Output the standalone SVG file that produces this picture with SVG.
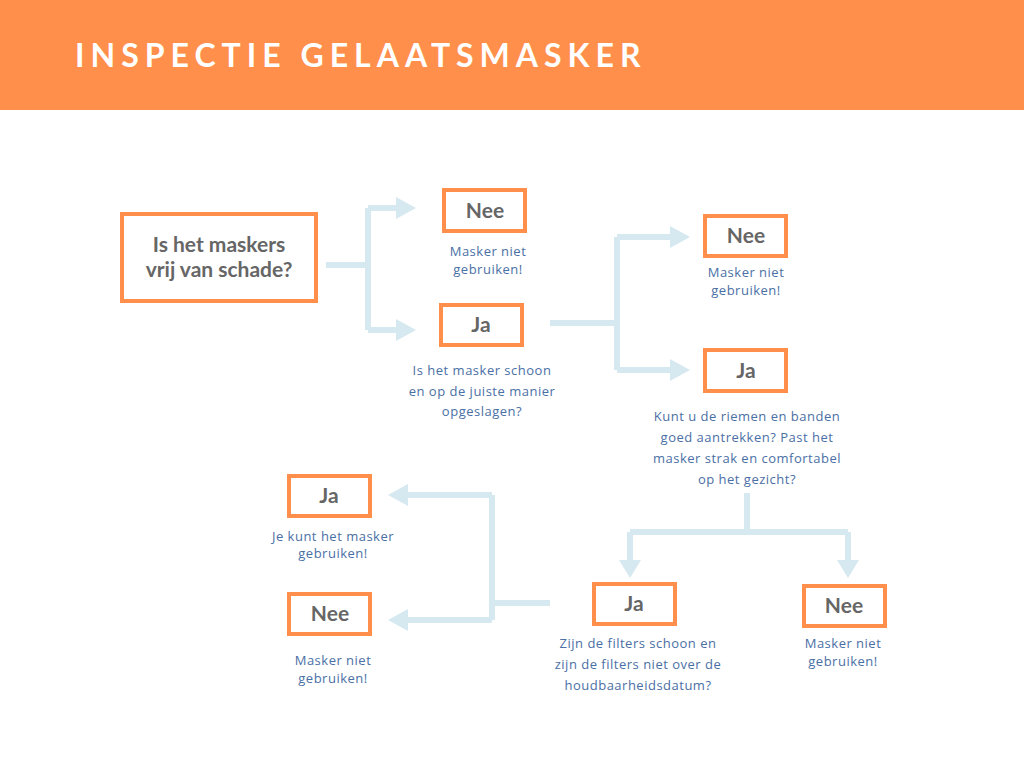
<svg xmlns="http://www.w3.org/2000/svg" width="1024" height="768" viewBox="0 0 1024 768">
<style>
.box{fill:#fff;stroke:#ff8f4b;stroke-width:4}
.bt{font-family:Lato,"Liberation Sans",sans-serif;font-weight:bold;fill:#666;font-size:21px;text-anchor:middle}
.d{font-family:"Open Sans","Liberation Sans",sans-serif;fill:#4a6fa5;font-size:13px;text-anchor:middle;letter-spacing:0.5px}
.c{fill:none;stroke:#d6e8f0;stroke-width:6}
.ah{fill:#d6e8f0}
</style>
<rect width="1024" height="110" fill="#ff8f4b"/>
<text x="75" y="67" font-family="Lato,'Liberation Sans',sans-serif" font-weight="bold" font-size="32" fill="#fff" letter-spacing="6">INSPECTIE GELAATSMASKER</text>
<g id="connectors">
<path class="c" d="M326 265H368M368 208V330M368 208H398M368 330H398"/>
<polygon class="ah" points="396,197 416,208 396,219"/>
<polygon class="ah" points="396,319 416,330 396,341"/>
<path class="c" d="M550 323H617M617 237V370M617 237H672M617 370H672"/>
<polygon class="ah" points="670,226 690,237 670,248"/>
<polygon class="ah" points="670,359 690,370 670,381"/>
<path class="c" d="M747 493V532M630 532H848M630 532V562M848 532V562"/>
<polygon class="ah" points="619,560 630,578 641,560"/>
<polygon class="ah" points="837,560 848,578 859,560"/>
<path class="c" d="M550 603H492M492 495V620M492 495H406M492 620H406"/>
<polygon class="ah" points="408,484 388,495 408,506"/>
<polygon class="ah" points="408,609 388,620 408,631"/>
</g>
<g id="q1"><rect class="box" x="122" y="214" width="194" height="87"/><text class="bt" x="219" y="252">Is het maskers</text><text class="bt" x="219" y="277">vrij van schade?</text></g>
<g id="nee1"><rect class="box" x="444" y="190" width="81" height="41"/><text class="bt" x="485" y="218" font-size="19">Nee</text><text class="d" x="488" y="256">Masker niet</text><text class="d" x="488" y="274">gebruiken!</text></g>
<g id="ja1"><rect class="box" x="441" y="305" width="81" height="40"/><text class="bt" x="481" y="332" font-size="19">Ja</text><text class="d" x="482" y="375">Is het masker schoon</text><text class="d" x="482" y="396">en op de juiste manier</text><text class="d" x="482" y="416">opgeslagen?</text></g>
<g id="nee2"><rect class="box" x="705" y="216" width="81" height="40"/><text class="bt" x="746" y="243" font-size="19">Nee</text><text class="d" x="746" y="277">Masker niet</text><text class="d" x="746" y="295">gebruiken!</text></g>
<g id="ja2"><rect class="box" x="705" y="350" width="81" height="41"/><text class="bt" x="746" y="378" font-size="19">Ja</text><text class="d" x="747" y="421">Kunt u de riemen en banden</text><text class="d" x="747" y="442">goed aantrekken? Past het</text><text class="d" x="747" y="463">masker strak en comfortabel</text><text class="d" x="747" y="484">op het gezicht?</text></g>
<g id="ja3"><rect class="box" x="594" y="584" width="81" height="40"/><text class="bt" x="634" y="611" font-size="19">Ja</text><text class="d" x="638" y="648">Zijn de filters schoon en</text><text class="d" x="638" y="669">zijn de filters niet over de</text><text class="d" x="638" y="690">houdbaarheidsdatum?</text></g>
<g id="nee3"><rect class="box" x="804" y="586" width="81" height="40"/><text class="bt" x="844" y="613" font-size="19">Nee</text><text class="d" x="843" y="648">Masker niet</text><text class="d" x="843" y="666">gebruiken!</text></g>
<g id="ja4"><rect class="box" x="289" y="476" width="81" height="40"/><text class="bt" x="329" y="503" font-size="19">Ja</text><text class="d" x="333" y="541">Je kunt het masker</text><text class="d" x="333" y="558">gebruiken!</text></g>
<g id="nee4"><rect class="box" x="289" y="594" width="81" height="40"/><text class="bt" x="330" y="621" font-size="19">Nee</text><text class="d" x="333" y="665">Masker niet</text><text class="d" x="333" y="683">gebruiken!</text></g>
</svg>
